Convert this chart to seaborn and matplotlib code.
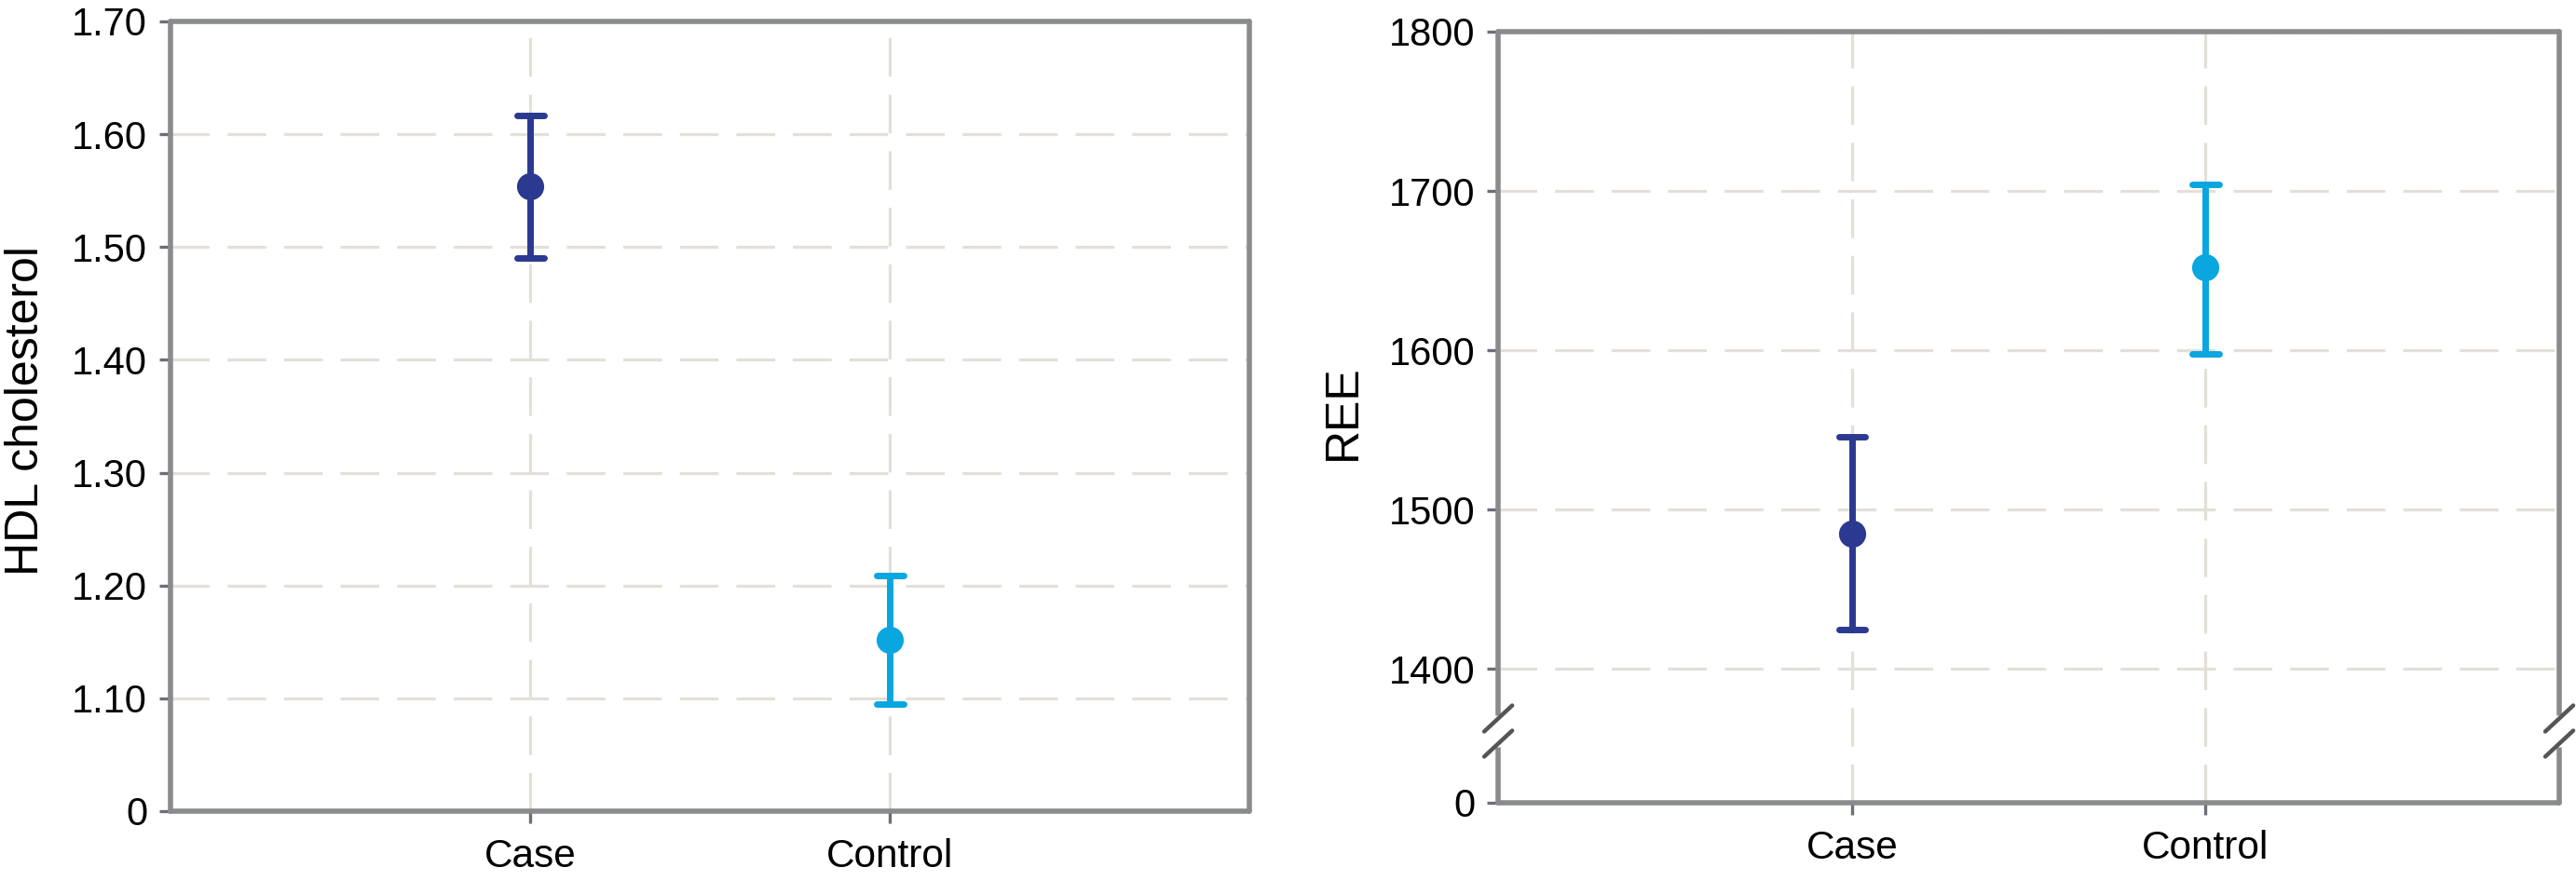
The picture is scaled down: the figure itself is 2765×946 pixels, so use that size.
import numpy as np
import pandas as pd
import matplotlib
matplotlib.use("Agg")
import matplotlib.pyplot as plt
import seaborn as sns

# data (mean with lower / upper limits of the error bars)
groups = ["Case", "Control"]
colors = ["#2b3990", "#0aa6df"]

hdl_mean = [1.554, 1.152]
hdl_low = [1.490, 1.095]
hdl_high = [1.617, 1.209]
hdl_ticks = [1.0, 1.1, 1.2, 1.3, 1.4, 1.5, 1.6, 1.7]
hdl_ticklabels = ["0", "1.10", "1.20", "1.30", "1.40", "1.50", "1.60", "1.70"]

ree_mean = [1485, 1652]
ree_low = [1425, 1598]
ree_high = [1546, 1704]
ree_ticks = [1316, 1400, 1500, 1600, 1700, 1800]
ree_ticklabels = ["0", "1400", "1500", "1600", "1700", "1800"]


def long_table(low, mean, high):
    rows = []
    for g, lo, m, hi in zip(groups, low, mean, high):
        for v in (lo, m, hi):
            rows.append({"group": g, "value": v})
    return pd.DataFrame(rows)


sns.set_theme(style="white")
plt.rcParams["font.family"] = ["Liberation Sans", "DejaVu Sans"]
plt.rcParams["text.color"] = "black"
plt.rcParams["axes.labelcolor"] = "black"

fig = plt.figure(figsize=(27.65, 9.46), dpi=100)
ax1 = fig.add_axes([0.0662, 0.0793, 0.4188, 0.8964])
ax2 = fig.add_axes([0.5816, 0.0888, 0.4119, 0.8753])


def panel(ax, df, ticks, ticklabels, ylabel, label_x):
    # median of (low, mean, high) is the mean, 100% interval is low..high
    sns.pointplot(data=df, x="group", y="value", hue="group", order=groups,
                  hue_order=groups, palette=colors, estimator="median",
                  errorbar=("pi", 100), capsize=0.075, marker="o",
                  linestyle="none", markersize=21, markeredgewidth=0,
                  err_kws={"linewidth": 5}, legend=False, ax=ax, zorder=5)
    ax.set_xlim(-1, 2)
    ax.set_ylim(ticks[0], ticks[-1])
    ax.set_yticks(ticks, ticklabels)
    ax.set_xlabel("")
    ax.set_ylabel(ylabel, fontsize=36, color="black")
    ax.yaxis.set_label_coords(label_x, 0.507)
    ax.tick_params(axis="both", labelsize=30, length=9, width=2.4,
                   color="#6e6e78", direction="out", pad=9,
                   left=True, bottom=True, labelcolor="black")
    ax.tick_params(axis="x", labelsize=30.5, pad=12)
    ax.grid(True, linestyle=(0, (13, 6)), color="#e3e0d9", linewidth=2.3)
    ax.set_axisbelow(True)
    for s in ax.spines.values():
        s.set_color("#8a8b8c")
        s.set_linewidth(4)
        s.set_capstyle("round")
        s.set_visible(True)


panel(ax1, long_table(hdl_low, hdl_mean, hdl_high), hdl_ticks, hdl_ticklabels,
      "HDL cholesterol", -0.114)
panel(ax2, long_table(ree_low, ree_mean, ree_high), ree_ticks, ree_ticklabels,
      "REE", -0.126)

# axis break marks on the REE panel
yb = 0.093
for xe in (0, 1):
    ax2.plot([xe, xe], [yb - 0.02, yb + 0.02], color="white", lw=8,
             transform=ax2.transAxes, clip_on=False, zorder=6,
             solid_capstyle="butt")
    for off in (-0.0163, 0.0163):
        ax2.plot([xe - 0.0132, xe + 0.0132], [yb + off - 0.0169, yb + off + 0.0169],
                 color="#555555", lw=3.2, transform=ax2.transAxes,
                 clip_on=False, zorder=7, solid_capstyle="round")

fig.savefig("out.png", dpi=100)
